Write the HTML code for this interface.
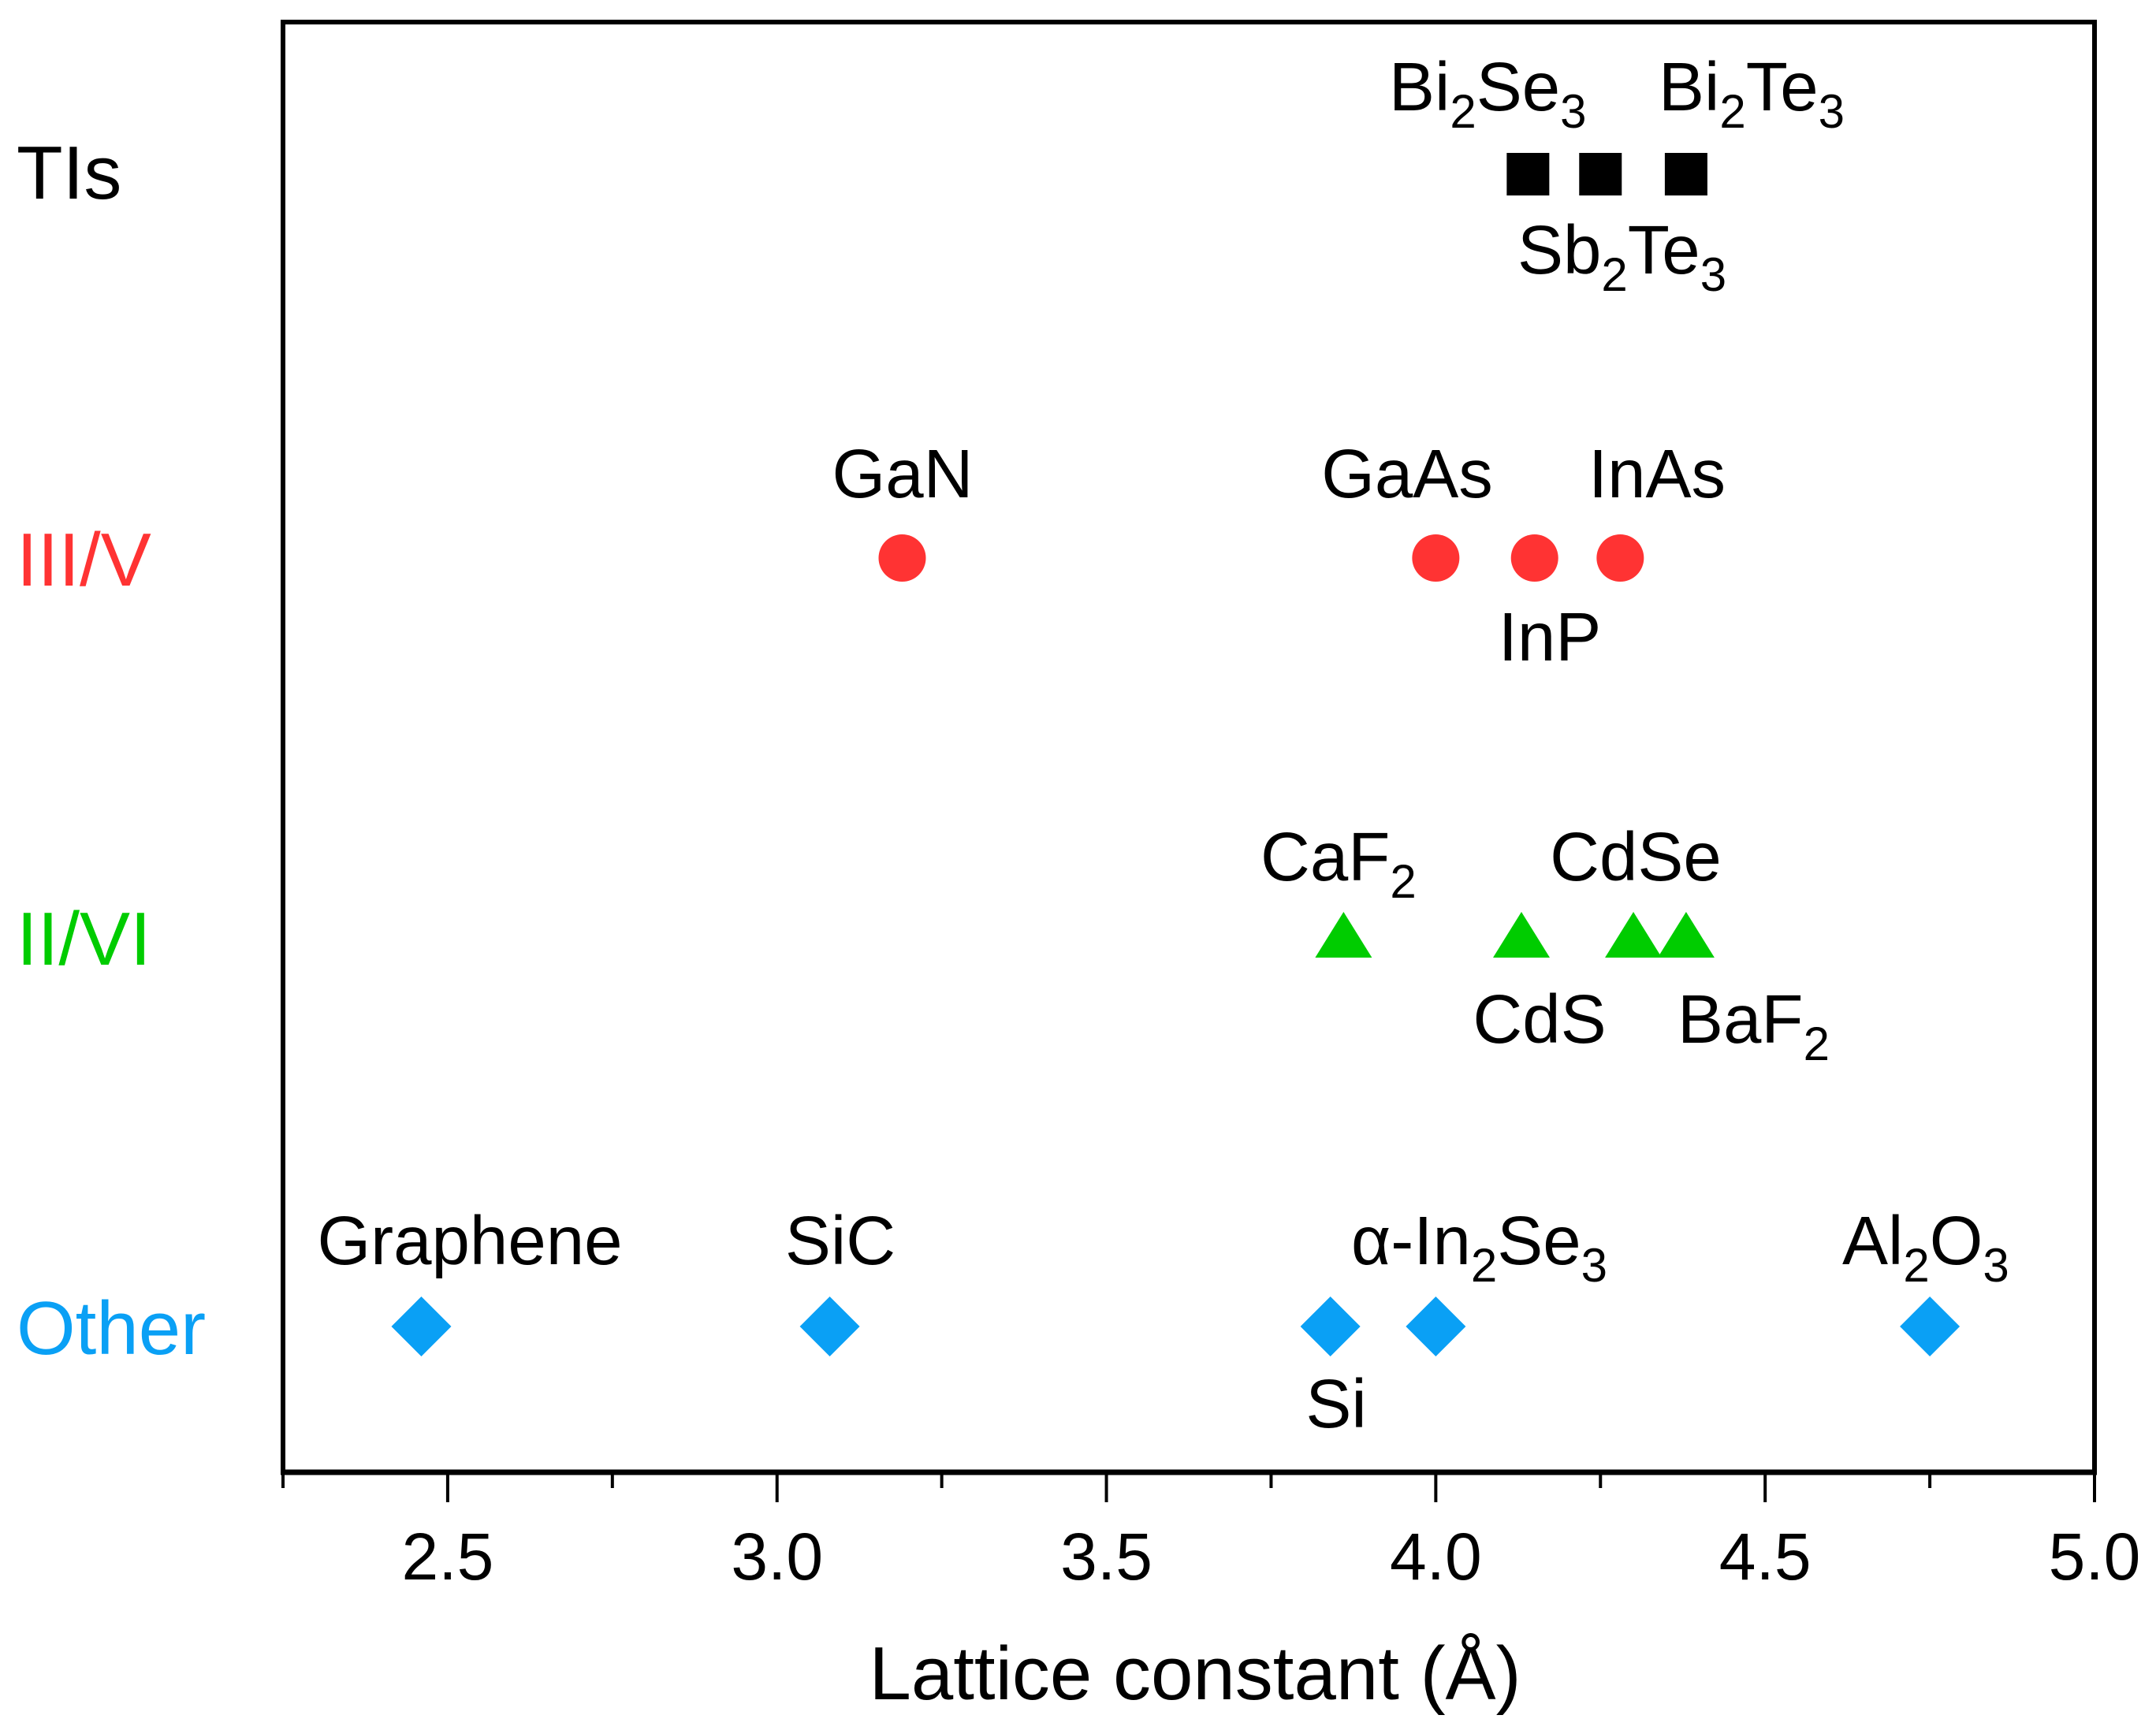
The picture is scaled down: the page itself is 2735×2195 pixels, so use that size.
<!DOCTYPE html>
<html><head><meta charset="utf-8"><style>
html,body{margin:0;padding:0;background:#fff;}
svg{display:block;font-family:"Liberation Sans",sans-serif;}
</style></head><body>
<svg id="chart" width="2735" height="2195" viewBox="0 0 2735 2195" xmlns="http://www.w3.org/2000/svg">
<rect x="0" y="0" width="2735" height="2195" fill="#fff"/>
<g id="marks"></g>
<g id="labels" font-size="87" fill="#000"></g>
<g id="axes"></g>
<g font-size="96">
<text x="21" y="252" fill="#000">TIs</text>
<text x="21" y="743" fill="#ff3333">III/V</text>
<text x="21" y="1224" fill="#00cc00">II/VI</text>
<text x="21" y="1718" fill="#0aa0f5">Other</text>
</g>
<text x="1516" y="2156" font-size="96" text-anchor="middle">Lattice constant (Å)</text>
</svg>
<script>
const tisX = [4.14, 4.25, 4.38];
const iiivX = [3.19, 4.00, 4.15, 4.28];
const iiviX = [3.86, 4.13, 4.30, 4.38];
const otherX = [2.46, 3.08, 3.84, 4.00, 4.75];
const tisNames = ['Bi2Se3','Sb2Te3','Bi2Te3'];
const iiivNames = ['GaN','GaAs','InP','InAs'];
const iiviNames = ['CaF2','CdS','CdSe','BaF2'];
const otherNames = ['Graphene','SiC','Si','a-In2Se3','Al2O3'];
const xTicks = [2.5, 3.0, 3.5, 4.0, 4.5, 5.0];
const xTickLabels = ['2.5','3.0','3.5','4.0','4.5','5.0'];

const NS='http://www.w3.org/2000/svg';
const X0=359, X1=2657, XMIN=2.25, XMAX=5.0, YT=28, YB=1868;
function xs(v){return X0+(v-XMIN)/(XMAX-XMIN)*(X1-X0);}
const rowY={tis:221, iiiv:708, iivi:1189, other:1683};
function mk(tag,attrs,parent){const e=document.createElementNS(NS,tag);for(const k in attrs)e.setAttribute(k,attrs[k]);parent.appendChild(e);return e;}
const marks=document.getElementById('marks');
const labels=document.getElementById('labels');
const axes=document.getElementById('axes');

tisX.forEach((v,i)=>{const e=mk('rect',{x:xs(v)-27,y:rowY.tis-27,width:54,height:54,fill:'#000'},marks);

});
iiivX.forEach((v,i)=>{const e=mk('circle',{cx:xs(v),cy:rowY.iiiv,r:30,fill:'#ff3333'},marks);

});
iiviX.forEach((v,i)=>{const cx=xs(v),cy=rowY.iivi;const e=mk('polygon',{points:`${cx},${cy-32} ${cx+36},${cy+26} ${cx-36},${cy+26}`,fill:'#00cc00'},marks);

});
otherX.forEach((v,i)=>{const cx=xs(v),cy=rowY.other;const e=mk('polygon',{points:`${cx},${cy-38} ${cx+38},${cy} ${cx},${cy+38} ${cx-38},${cy}`,fill:'#0aa0f5'},marks);

});

const labelDefs=[
 [['Bi',['2'],'Se',['3']],1762,140,'start'],
 [['Bi',['2'],'Te',['3']],2104,140,'start'],
 [['Sb',['2'],'Te',['3']],1925,347,'start'],
 [['GaN'],1145,631,'middle'],
 [['GaAs'],1785,631,'middle'],
 [['InAs'],2102,631,'middle'],
 [['InP'],1966,838,'middle'],
 [['CaF',['2']],1599,1117,'start'],
 [['CdSe'],2075,1117,'middle'],
 [['CdS'],1953,1323,'middle'],
 [['BaF',['2']],2128,1323,'start'],
 [['Graphene'],596,1604,'middle'],
 [['SiC'],1066,1604,'middle'],
 [['α-In',['2'],'Se',['3']],1714,1604,'start'],
 [['Al',['2'],'O',['3']],2337,1604,'start'],
 [['Si'],1695,1811,'middle']
];
labelDefs.forEach(d=>{const t=mk('text',{x:d[1],y:d[2],'text-anchor':d[3]},labels);


let pending=0;
d[0].forEach(p=>{if(Array.isArray(p)){const s=mk('tspan',{'font-size':'60',dy:String(22+pending)},t);s.textContent=p[0];pending=-22;}else{const s=mk('tspan',{dy:String(pending)},t);s.textContent=p;pending=0;}});});

const fr=mk('path',{d:`M${X0},${YB} L${X0},${YT} L${X1},${YT} L${X1},${YB}`,fill:'none',stroke:'#000','stroke-width':6},axes);


const xa=mk('line',{x1:X0-3,y1:YB,x2:X1+3,y2:YB,stroke:'#000','stroke-width':7},axes);


for(let v=2.25;v<=5.0001;v+=0.25){const major=Math.abs((v*2)-Math.round(v*2))<1e-6;
 const t=mk('line',{x1:xs(v),y1:YB,x2:xs(v),y2:YB+(major?38:20),stroke:'#000','stroke-width':4},axes);
 
 }
xTicks.forEach((v,i)=>{const t=mk('text',{x:xs(v),y:2004,'font-size':'84','text-anchor':'middle'},axes);t.textContent=xTickLabels[i];

});
</script>
</body></html>
